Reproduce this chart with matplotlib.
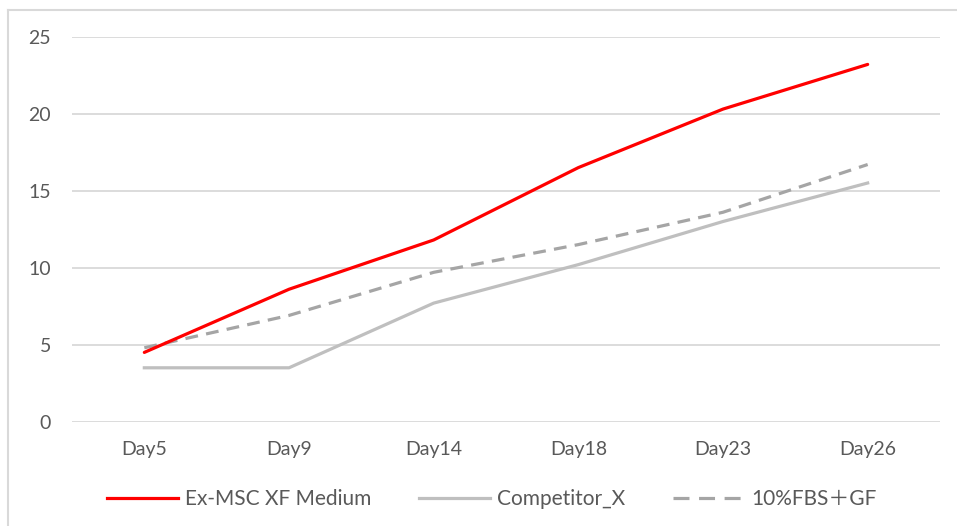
import matplotlib
matplotlib.use('Agg')
from matplotlib import pyplot as plt
from matplotlib.lines import Line2D

days = ['Day5', 'Day9', 'Day14', 'Day18', 'Day23', 'Day26']
ex_msc = [4.5, 8.6, 11.8, 16.5, 20.3, 23.2]
competitor = [3.5, 3.5, 7.7, 10.2, 13.0, 15.5]
fbs_gf = [4.8, 6.9, 9.7, 11.5, 13.6, 16.7]
labels = ['Ex-MSC XF Medium', 'Competitor_X', '10%FBS\uff0bGF']

TEXT = '#595959'
GRID = '#D9D9D9'

plt.rcParams['font.family'] = ['Lato', 'Noto Sans CJK JP', 'DejaVu Sans']

fig = plt.figure(figsize=(9.57, 5.26), dpi=100)
ax = fig.add_axes([72 / 957, 1 - 421.7 / 526, (940 - 72) / 957, 385 / 526])

x = list(range(len(days)))
ax.plot(x, ex_msc, color='#FF0000', lw=2.3, solid_capstyle='round', zorder=4)
ax.plot(x, competitor, color='#BFBFBF', lw=2.3, zorder=3)
ax.plot(x, fbs_gf, color='#A5A5A5', lw=2.3, dashes=(4, 2.6), zorder=3)

ax.set_xlim(-0.5, 5.5)
ax.set_ylim(0, 25)
ax.set_yticks([0, 5, 10, 15, 20, 25])
ax.set_xticks(x)
ax.set_xticklabels(days)
ax.grid(axis='y', color=GRID, lw=1.3)
ax.set_axisbelow(True)
for s in ax.spines.values():
    s.set_visible(False)
ax.tick_params(axis='both', length=0, labelsize=14, labelcolor=TEXT)
ax.tick_params(axis='y', pad=15)
ax.tick_params(axis='x', pad=14)

handles = [Line2D([], [], color='#FF0000', lw=2.3),
           Line2D([], [], color='#BFBFBF', lw=2.3),
           Line2D([], [], color='#A5A5A5', lw=2.3, dashes=(5, 3))]
leg = fig.legend(handles, labels, loc='center', bbox_to_anchor=(0.514, 0.051),
                 ncol=3, frameon=False, fontsize=15, handlelength=3.4,
                 handletextpad=0.35, columnspacing=2.3)
for t in leg.get_texts():
    t.set_color(TEXT)

# outer chart border (top and left visible)
fig.add_artist(Line2D([8 / 957, 8 / 957], [0, 1 - 10 / 526], transform=fig.transFigure,
                      color=GRID, lw=1.5))
fig.add_artist(Line2D([8 / 957, 1], [1 - 10 / 526, 1 - 10 / 526], transform=fig.transFigure,
                      color=GRID, lw=1.5))

fig.savefig('out.png', dpi=100)
